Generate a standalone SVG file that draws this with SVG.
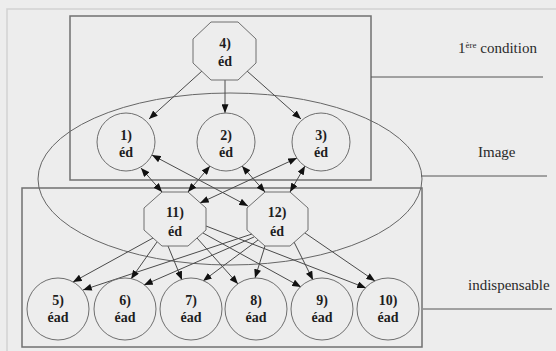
<svg xmlns="http://www.w3.org/2000/svg" width="556" height="351" viewBox="0 0 556 351">
<style>
.bg{fill:#ededed}
.frame{fill:none;stroke:#d2d2d2;stroke-width:1.5}
.box{fill:none;stroke:#707070;stroke-width:1.5}
.ell{fill:none;stroke:#666;stroke-width:1}
.node{fill:none;stroke:#6e6e6e;stroke-width:1}
.lbl{font-family:'Liberation Serif','DejaVu Serif',serif;font-weight:bold;font-size:14px;fill:#1e1e1e;text-anchor:middle}
.side{font-family:'Liberation Serif','DejaVu Serif',serif;font-size:15px;fill:#2a2a2a}
.sup{font-size:9px}
.rule{stroke:#555;stroke-width:1}
.c{stroke:#4a4a4a;stroke-width:1;fill:none;marker-end:url(#ah)}
.d{stroke:#4a4a4a;stroke-width:1;fill:none;marker-end:url(#ah);marker-start:url(#ah)}
</style>
<defs>
<marker id="ah" viewBox="0 0 10 8" refX="10" refY="4" markerWidth="9" markerHeight="7" markerUnits="userSpaceOnUse" orient="auto-start-reverse">
<path d="M0,0 L10,4 L0,8 Z" fill="#111"/>
</marker>
</defs>
<rect class="bg" x="0" y="0" width="556" height="351"/>
<path class="frame" d="M7,351 L7,9 L556,9"/>

<g id="groups">
<rect class="box" x="70" y="16" width="301" height="164"/>
<rect class="box" x="22" y="188" width="400" height="159"/>
<ellipse class="ell" cx="230" cy="179" rx="192" ry="86"/>
</g>

<g id="side-labels">
<text class="side" x="458" y="53">1<tspan class="sup" dy="-5">ère</tspan><tspan dy="5"> condition</tspan></text>
<line class="rule" x1="371" y1="77" x2="543" y2="77"/>
<text class="side" x="478" y="157">Image</text>
<line class="rule" x1="421" y1="176" x2="547" y2="176"/>
<text class="side" x="468" y="290">indispensable</text>
<line class="rule" x1="423" y1="309" x2="552" y2="309"/>
</g>

<g id="connectors">
<line class="c" x1="202" y1="71" x2="149" y2="119"/>
<line class="c" x1="225" y1="80" x2="225" y2="113"/>
<line class="c" x1="247" y1="71" x2="301" y2="119"/>
<line class="d" x1="141" y1="168" x2="162" y2="192"/>
<line class="d" x1="152" y1="155" x2="248" y2="206"/>
<line class="d" x1="210" y1="166" x2="188" y2="192"/>
<line class="d" x1="297" y1="158" x2="200" y2="203"/>
<line class="d" x1="242" y1="166" x2="265" y2="192"/>
<line class="d" x1="305" y1="166" x2="290" y2="192"/>
<line class="c" x1="153" y1="238" x2="73" y2="282"/>
<line class="c" x1="252" y1="234" x2="83" y2="290"/>
<line class="c" x1="157" y1="242" x2="131" y2="279"/>
<line class="c" x1="254" y1="237" x2="144" y2="285"/>
<line class="c" x1="168" y1="246" x2="182" y2="280"/>
<line class="c" x1="258" y1="240" x2="203" y2="281"/>
<line class="c" x1="197" y1="238" x2="238" y2="284"/>
<line class="c" x1="265" y1="246" x2="255" y2="278"/>
<line class="c" x1="203" y1="233" x2="301" y2="287"/>
<line class="c" x1="294" y1="242" x2="313" y2="280"/>
<line class="c" x1="206" y1="226" x2="366" y2="288"/>
<line class="c" x1="305" y1="233" x2="375" y2="281"/>
</g>

<g id="n4">
<polygon class="node" points="211,22 238,22 256,39 256,63 238,80 211,80 193,63 193,39"/>
<text class="lbl" x="225" y="48">4)</text>
<text class="lbl" x="225" y="66">éd</text>
</g>
<g id="n1">
<circle class="node" cx="126" cy="142" r="29"/>
<text class="lbl" x="126" y="140">1)</text>
<text class="lbl" x="126" y="157">éd</text>
</g>
<g id="n2">
<circle class="node" cx="226" cy="142" r="29"/>
<text class="lbl" x="226" y="140">2)</text>
<text class="lbl" x="226" y="157">éd</text>
</g>
<g id="n3">
<circle class="node" cx="321" cy="142" r="29"/>
<text class="lbl" x="321" y="140">3)</text>
<text class="lbl" x="321" y="157">éd</text>
</g>
<g id="n11">
<polygon class="node" points="162,192 188,192 206,208 206,230 188,246 162,246 144,230 144,208"/>
<text class="lbl" x="175" y="217">11)</text>
<text class="lbl" x="175" y="236">éd</text>
</g>
<g id="n12">
<polygon class="node" points="265,192 290,192 308,208 308,230 290,246 265,246 247,230 247,208"/>
<text class="lbl" x="277" y="217">12)</text>
<text class="lbl" x="277" y="236">éd</text>
</g>
<g id="n5">
<circle class="node" cx="58" cy="309" r="31"/>
<text class="lbl" x="58" y="305">5)</text>
<text class="lbl" x="58" y="322">éad</text>
</g>
<g id="n6">
<circle class="node" cx="125" cy="309" r="31"/>
<text class="lbl" x="125" y="305">6)</text>
<text class="lbl" x="125" y="322">éad</text>
</g>
<g id="n7">
<circle class="node" cx="191" cy="309" r="31"/>
<text class="lbl" x="191" y="305">7)</text>
<text class="lbl" x="191" y="322">éad</text>
</g>
<g id="n8">
<circle class="node" cx="256" cy="309" r="31"/>
<text class="lbl" x="256" y="305">8)</text>
<text class="lbl" x="256" y="322">éad</text>
</g>
<g id="n9">
<circle class="node" cx="322" cy="309" r="31"/>
<text class="lbl" x="322" y="305">9)</text>
<text class="lbl" x="322" y="322">éad</text>
</g>
<g id="n10">
<circle class="node" cx="388" cy="309" r="31"/>
<text class="lbl" x="388" y="305">10)</text>
<text class="lbl" x="388" y="322">éad</text>
</g>
</svg>
